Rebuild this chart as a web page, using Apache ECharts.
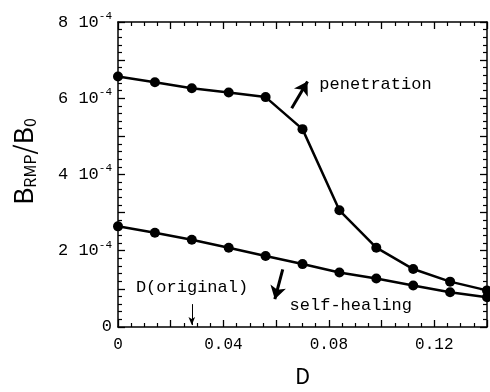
<!DOCTYPE html>
<html><head><meta charset="utf-8">
<script src="https://cdn.jsdelivr.net/npm/echarts@6/dist/echarts.min.js"></script>
<style>html,body{margin:0;padding:0;background:#fff}#c{width:490px;height:392px}</style>
</head><body><div id="c"></div>
<script>
const dValues = [0, 0.014, 0.028, 0.042, 0.056, 0.07, 0.084, 0.098, 0.112, 0.126, 0.14];
const penetration = [6.57e-4, 6.42e-4, 6.26e-4, 6.15e-4, 6.03e-4, 5.19e-4, 3.06e-4, 2.08e-4, 1.52e-4, 1.19e-4, 0.96e-4];
const selfHealing = [2.64e-4, 2.47e-4, 2.29e-4, 2.08e-4, 1.86e-4, 1.65e-4, 1.43e-4, 1.27e-4, 1.09e-4, 0.91e-4, 0.78e-4];
const xTickLabels = [0, 0.04, 0.08, 0.12];
const yTickLabels = [0, 2e-4, 4e-4, 6e-4, 8e-4];
const dOriginal = 0.028;

const MONO = '"Liberation Mono", "DejaVu Sans Mono", monospace';
const toPairs = (xs, ys) => xs.map((x, i) => [x, ys[i]]);

const chart = echarts.init(document.getElementById('c'), null, {renderer: 'canvas'});

const axisLine = {show: true, onZero: false, lineStyle: {color: '#000', width: 1.5}};
const axisTick = {show: true, inside: true, length: 7, lineStyle: {color: '#000', width: 1.3}};
const minorX = {show: true, splitNumber: 4, length: 4, lineStyle: {color: '#000', width: 1.2}};
const minorY = {show: true, splitNumber: 5, length: 4, lineStyle: {color: '#000', width: 1.2}};

function near(v, arr, eps) { return arr.some(a => Math.abs(a - v) < eps); }

const option = {
  animation: false,
  backgroundColor: '#fff',
  grid: {left: 117, right: 2, top: 22, bottom: 62, containLabel: false},
  xAxis: [
    {
      type: 'value', min: 0, max: 0.14, interval: 0.02, position: 'bottom',
      axisLine, axisTick, minorTick: minorX, splitLine: {show: false},
      axisLabel: {
        margin: 10, color: '#000', fontFamily: MONO, fontSize: 16,
        formatter: v => near(v, xTickLabels, 1e-6) ? (v === 0 ? '0' : v.toFixed(2)) : ''
      },
      name: 'D', nameLocation: 'middle', nameGap: 38,
      nameTextStyle: {color: '#000', fontFamily: '"Noto Sans CJK JP", sans-serif', fontSize: 22}
    },
    {
      type: 'value', min: 0, max: 0.14, interval: 0.02, position: 'top',
      axisLine, axisTick, minorTick: minorX, splitLine: {show: false},
      axisLabel: {show: false}
    }
  ],
  yAxis: [
    {
      type: 'value', min: 0, max: 8e-4, interval: 1e-4, position: 'left',
      axisLine, axisTick, minorTick: minorY, splitLine: {show: false},
      axisLabel: {
        margin: 6, color: '#000', fontFamily: MONO, fontSize: 16,
        formatter: v => {
          if (!near(v, yTickLabels, 1e-9)) return '';
          if (Math.abs(v) < 1e-12) return '{a|0}';
          const n = Math.round(v / 1e-4);
          return '{a|' + n + ' 10}{b|-4}';
        },
        rich: {
          a: {fontFamily: MONO, fontSize: 17, color: '#000', lineHeight: 20},
          b: {fontFamily: MONO, fontSize: 11, color: '#000', lineHeight: 20, padding: [0, 0, 12, 0]}
        }
      },
      name: '{b|B}{s|RMP}{b|/B}{s|0}', nameLocation: 'middle', nameGap: 80, nameRotate: 90,
      nameTextStyle: {
        color: '#000', padding: [0, 0, 0, 26],
        rich: {
          b: {fontFamily: '"Noto Sans CJK JP", sans-serif', fontSize: 26, color: '#000', lineHeight: 30},
          s: {fontFamily: '"Noto Sans CJK JP", sans-serif', fontSize: 16, color: '#000', lineHeight: 30, padding: [14, 0, 0, 0]}
        }
      }
    },
    {
      type: 'value', min: 0, max: 8e-4, interval: 1e-4, position: 'right',
      axisLine, axisTick, minorTick: minorY, splitLine: {show: false},
      axisLabel: {show: false}
    }
  ],
  series: [
    {
      type: 'line', name: 'penetration', data: toPairs(dValues, penetration),
      symbol: 'circle', symbolSize: 10, clip: false,
      lineStyle: {color: '#000', width: 2.5}, itemStyle: {color: '#000'}
    },
    {
      type: 'line', name: 'self-healing', data: toPairs(dValues, selfHealing),
      symbol: 'circle', symbolSize: 10, clip: false,
      lineStyle: {color: '#000', width: 2.5}, itemStyle: {color: '#000'},
      markLine: {
        silent: true, animation: false,
        label: {show: false},
        data: [
          [{coord: [0.0659, 5.74e-4], symbol: 'none', lineStyle: {color: '#000', width: 3, type: 'solid'}},
           {coord: [0.0719, 6.44e-4], symbol: 'arrow', symbolSize: [12, 13]}],
          [{coord: [0.0625, 1.51e-4], symbol: 'none', lineStyle: {color: '#000', width: 3, type: 'solid'}},
           {coord: [0.0595, 0.73e-4], symbol: 'arrow', symbolSize: [12, 13]}],
          [{coord: [dOriginal, 0.60e-4], symbol: 'none', lineStyle: {color: '#000', width: 1, type: 'solid'}},
           {coord: [dOriginal, 0.05e-4], symbol: 'arrow', symbolSize: [5, 8]}]
        ]
      }
    }
  ]
};
chart.setOption(option);

const notes = [
  {text: 'penetration', at: [0.0764, 6.36e-4]},
  {text: 'self-healing', at: [0.0651, 0.57e-4]},
  {text: 'D(original)', at: [0.0068, 1.04e-4]}
];
chart.setOption({
  graphic: notes.map(n => {
    const p = chart.convertToPixel({xAxisIndex: 0, yAxisIndex: 0}, n.at);
    return {
      type: 'text', x: p[0], y: p[1],
      style: {text: n.text, fill: '#000', font: '17px ' + MONO, textVerticalAlign: 'middle', textAlign: 'left'}
    };
  })
});
</script></body></html>
